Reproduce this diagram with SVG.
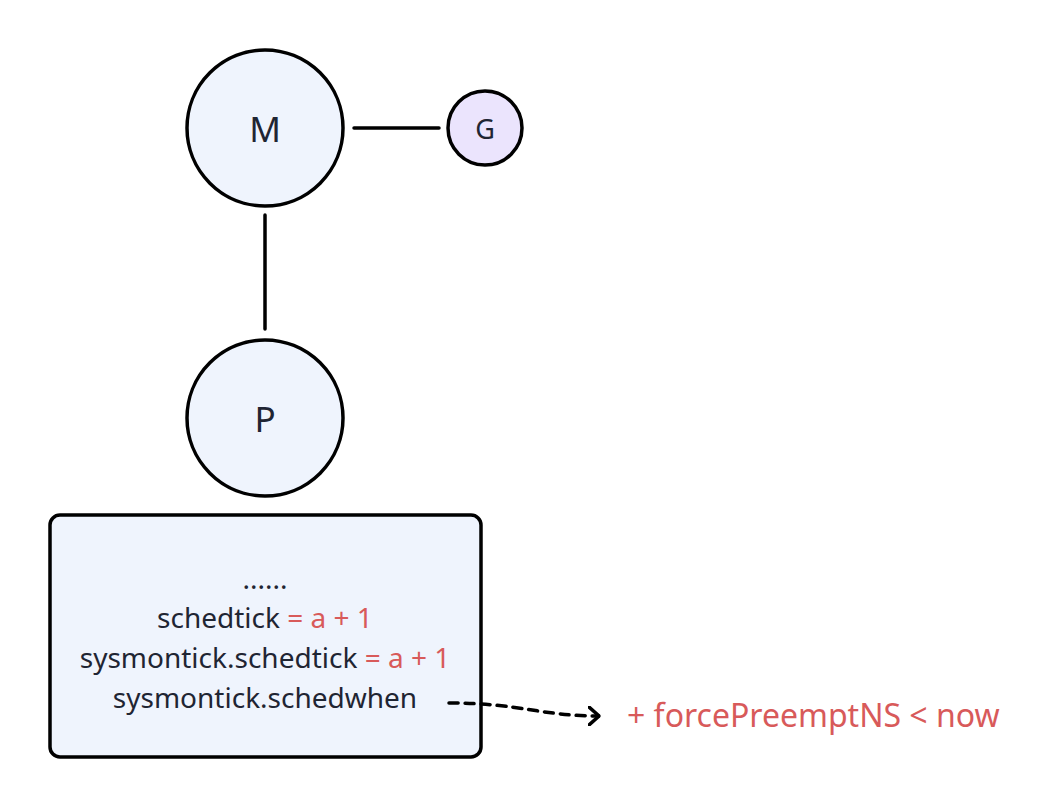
<svg xmlns="http://www.w3.org/2000/svg" width="1046" height="808" viewBox="0 0 1046 808">
<style>
.node{fill:#eff4fd;stroke:#000;stroke-width:3.5}
.t{font-family:"Noto Sans","Open Sans",sans-serif;fill:#1f2533}
.r{fill:#d85a5a}
.c{stroke:#000;stroke-width:3.5;fill:none;stroke-linecap:round}
</style>
<defs>
<marker id="arr" viewBox="0 0 12 20" refX="11" refY="10" markerWidth="12" markerHeight="20" markerUnits="userSpaceOnUse" orient="auto">
<path d="M1,1 L11,10 L1,19" fill="none" stroke="#000" stroke-width="3.5" stroke-linecap="round" stroke-linejoin="round"/>
</marker>
</defs>
<rect width="1046" height="808" fill="#fff"/>
<g id="M">
<circle class="node" cx="265" cy="128" r="78"/>
<text class="t" x="265" y="142" font-size="35" text-anchor="middle">M</text>
</g>
<g id="G">
<circle class="node" cx="485" cy="128" r="37" style="fill:#ebe4fd"/>
<text class="t" x="485" y="139" font-size="27" text-anchor="middle">G</text>
</g>
<g id="P">
<circle class="node" cx="265" cy="418" r="78"/>
<text class="t" x="265" y="432" font-size="35" text-anchor="middle">P</text>
</g>
<g id="box">
<rect class="node" x="50" y="515" width="431" height="242" rx="10"/>
<text class="t" x="265" y="589" font-size="28" text-anchor="middle">......</text>
<text class="t" x="265" y="628" font-size="28" text-anchor="middle">schedtick <tspan class="r">= a + 1</tspan></text>
<text class="t" x="265" y="668" font-size="28" text-anchor="middle">sysmontick.schedtick <tspan class="r">= a + 1</tspan></text>
<text class="t" x="265" y="708" font-size="28" text-anchor="middle">sysmontick.schedwhen</text>
</g>
<g id="label">
<text class="t r" x="627" y="727" font-size="32">+ forcePreemptNS &lt; now</text>
</g>
<g id="connectors">
<line class="c" x1="354" y1="128" x2="439" y2="128"/>
<line class="c" x1="265" y1="215" x2="265" y2="329"/>
<path class="c" d="M449,703 C520,703 540,716 599,716" stroke-dasharray="9,7" marker-end="url(#arr)"/>
</g>
</svg>
